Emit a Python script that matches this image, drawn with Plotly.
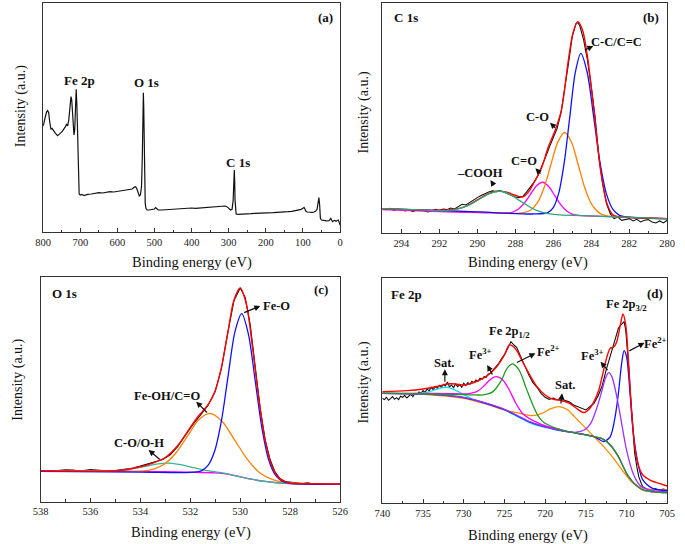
import plotly.graph_objects as go

W, H = 685, 544
FONT = "Liberation Serif"

# ---------------- (a) survey spectrum ----------------
a_be = [800, 797, 794, 791, 788, 785, 783, 781, 779, 776,
        773, 770, 767, 764, 761, 758, 755, 752, 749, 746,
        743, 740, 737, 734, 731, 729, 727, 725, 723, 721,
        719, 717, 715, 713, 711, 709, 707, 705, 703, 700,
        695, 690, 685, 680, 670, 660, 650, 640, 630, 620,
        610, 600, 590, 580, 570, 565, 560, 555, 551, 548,
        545, 541, 538, 535, 533, 531, 530, 529, 527, 525,
        523, 520, 515, 510, 505, 500, 497, 494, 490, 480,
        470, 460, 450, 440, 430, 420, 410, 400, 390, 380,
        370, 360, 350, 340, 330, 320, 310, 305, 300, 295,
        291, 288, 286, 285, 284, 283, 282, 280, 275, 270,
        260, 250, 240, 230, 220, 210, 200, 190, 180, 170,
        160, 150, 140, 130, 120, 110, 105, 100, 97, 95,
        92, 88, 84, 80, 75, 70, 66, 62, 59, 57,
        55, 53, 50, 45, 40, 35, 30, 27, 25, 23,
        20, 17, 14, 11, 8, 5, 3, 1, 0]
a_int = [318, 331, 348, 360, 364, 358, 336, 316, 308, 311,
         304, 301, 296, 291, 289, 292, 294, 298, 301, 306,
         309, 316, 324, 318, 336, 356, 386, 406, 396, 356,
         311, 291, 306, 376, 428, 376, 246, 126, 114, 111,
         113, 109, 111, 113, 114, 116, 118, 117, 119, 121,
         120, 122, 123, 126, 126, 128, 129, 134, 136, 131,
         119, 108, 111, 136, 216, 396, 418, 376, 196, 86,
         71, 66, 66, 67, 68, 69, 73, 69, 66, 66,
         67, 68, 69, 69, 70, 70, 71, 72, 71, 72,
         73, 73, 74, 74, 75, 76, 78, 76, 71, 66,
         68, 96, 156, 186, 156, 96, 58, 54, 53, 53,
         54, 55, 55, 56, 56, 56, 57, 58, 58, 59,
         59, 60, 61, 62, 64, 66, 68, 71, 74, 70,
         62, 60, 59, 60, 59, 60, 62, 68, 91, 103,
         81, 41, 36, 34, 34, 33, 34, 38, 41, 36,
         31, 34, 35, 32, 34, 36, 31, 24, 21]

# ---------------- (b) C 1s ----------------
b_raw_be = [295, 294.8, 294.6, 294.4, 294.2, 294, 293.8, 293.6, 293.4, 293.2, 293,
            292.8, 292.6, 292.4, 292.2, 292, 291.8, 291.6, 291.4, 291.2, 291,
            290.8, 290.6, 290.4, 290.2, 290, 289.8, 289.6, 289.4, 289.2, 289,
            288.8, 288.6, 288.4, 288.2, 288, 287.8, 287.6, 287.4, 287.2, 287,
            286.8, 286.6, 286.4, 286.2, 286, 285.8, 285.6, 285.4, 285.2, 285,
            284.8, 284.7, 284.6, 284.4, 284.2, 284, 283.8, 283.6, 283.4, 283.2, 283,
            282.8, 282.6, 282.4, 282.2, 282, 281.8, 281.6, 281.4, 281.2, 281,
            280.8, 280.6, 280.4, 280.2, 280]
b_raw_int = [73, 70, 74, 68, 71, 70, 66, 70, 64, 69, 70,
             66, 63, 67, 71, 68, 72, 70, 75, 72, 78,
             86, 84, 92, 98, 106, 112, 118, 123, 126, 124,
             127, 122, 118, 113, 108, 106, 110, 123, 138, 153,
             173, 198, 228, 258, 288, 313, 358, 428, 508, 588,
             628, 630, 620, 578, 518, 438, 348, 228, 148, 88, 58,
             43, 48, 38, 40, 43, 36, 41, 33, 38, 40,
             33, 30, 36, 30, 38]
b_fit_be = [295, 292, 291, 290.5, 290, 289.5, 289, 288.5, 288, 287.6,
            287.3, 286.95, 286.6, 286.26, 285.9, 285.57, 285.23, 284.97, 284.71, 284.46,
            284.2, 283.86, 283.51, 283.17, 282.83, 282, 280]
b_fit_int = [73, 68, 73, 83, 99, 116, 125, 123, 113, 108,
             123, 158, 198, 258, 308, 368, 508, 598, 633, 608,
             528, 368, 188, 88, 53, 47, 43]
b_cc_be = [295, 290, 287, 286.29, 286.0, 285.71, 285.42, 285.13, 284.84, 284.55,
           284.21, 283.87, 283.53, 283.19, 282.85, 282.51, 282, 280]
b_cc_int = [73, 63, 57, 61, 76, 120, 212, 348, 481, 538,
            480, 346, 208, 115, 70, 53, 47, 43]
b_co_be = [295, 290, 288, 287.56, 287.2, 286.84, 286.48, 286.12, 285.76, 285.4,
           285.04, 284.68, 284.32, 283.96, 283.6, 283.24, 282, 280]
b_co_int = [73, 63, 59, 61, 68, 90, 136, 206, 273, 301,
            272, 203, 132, 84, 61, 52, 47, 43]
b_cdo_be = [295, 292, 290, 289, 288.49, 288.17, 287.85, 287.53, 287.21, 286.89,
            286.57, 286.25, 285.93, 285.61, 285.29, 284.97, 284.65, 283, 280]
b_cdo_int = [70, 64, 61, 60, 60, 62, 71, 89, 115, 141,
             152, 140, 113, 85, 66, 56, 53, 49, 43]
b_cooh_be = [295, 293, 292.01, 291.48, 290.95, 290.42, 289.89, 289.36, 288.83, 288.3,
             287.77, 287.24, 286.71, 286.18, 285.65, 284, 282, 280]
b_cooh_int = [73, 69, 67, 68, 73, 84, 101, 118, 125, 116,
              97, 78, 64, 57, 54, 51, 47, 43]

# ---------------- (c) O 1s ----------------
c_raw_be = [538, 537.6, 537.3, 537, 536.7, 536.4, 536, 535.7, 535.4, 535,
            534.6, 534.3, 534, 533.7, 533.4, 533.1, 532.8, 532.5, 532.2, 531.9,
            531.6, 531.3, 531, 530.75, 530.5, 530.25, 530, 529.8, 529.6, 529.4,
            529.2, 529, 528.8, 528.6, 528.4, 528.2, 528, 527.8, 527.5, 527.3,
            527.1, 526.8, 526.5, 526]
c_raw_int = [92, 91, 93, 95, 94, 91, 96, 93, 92, 93,
             96, 100, 106, 112, 118, 126, 140, 165, 198, 230,
             258, 287, 330, 400, 505, 602, 640, 612, 530, 410,
             280, 185, 125, 88, 68, 60, 58, 55, 54, 56,
             53, 52, 53, 51]
c_fit_be = [538, 536, 535, 534.5, 534, 533.5, 533, 532.5, 532, 531.75,
            531.5, 531.25, 531, 530.75, 530.5, 530.25, 530, 529.75, 529.5, 529.25,
            529, 528.75, 528.5, 528.25, 528, 527, 526]
c_fit_int = [92, 91, 92, 96, 104, 115, 132, 168, 222, 249,
             271, 294, 333, 403, 505, 604, 640, 590, 458, 305,
             183, 110, 74, 61, 55, 53, 52]
c_feo_be = [538, 534, 532, 531.56, 531.29, 531.02, 530.75, 530.48, 530.21, 529.94,
            529.67, 529.4, 529.13, 528.86, 528.59, 528.32, 528, 526]
c_feo_int = [90, 88, 87, 92, 108, 152, 243, 379, 509, 563,
             501, 362, 220, 125, 79, 61, 54, 52]
c_feoh_be = [538, 535, 533.92, 533.47, 533.02, 532.57, 532.12, 531.67, 531.22, 530.72,
             530.22, 529.72, 529.22, 528.72, 528.22, 527, 526]
c_feoh_int = [92, 91, 91, 97, 113, 146, 195, 244, 264, 240,
              184, 127, 86, 66, 57, 53, 52]
c_coh_be = [538, 536, 535.16, 534.71, 534.26, 533.81, 533.36, 532.91, 532.46, 532.01,
            531.56, 531.11, 530.66, 530, 529.5, 529, 528, 526]
c_coh_int = [92, 91, 91, 94, 99, 105, 112, 115, 111, 104,
             96, 90, 85, 74, 66, 60, 54, 52]
c_bg_be = [538, 536, 534, 532, 531, 530.5, 530, 529.5, 529, 528.5, 528, 527, 526]
c_bg_int = [92, 91, 90, 88, 86, 82, 74, 66, 60, 56, 54, 53, 52]

# ---------------- (d) Fe 2p ----------------
d_raw_be = [740, 739.75, 739.5, 739.25, 739, 738.75, 738.5, 738.25, 738, 737.75,
            737.5, 737.25, 737, 736.75, 736.5, 736.25, 736, 735.75, 735.5, 735.25,
            735, 734.75, 734.5, 734.25, 734, 733.75, 733.5, 733.25, 733, 732.75,
            732.5, 732.25, 732, 731.75, 731.5, 731.25, 731, 730.75, 730.5, 730.25,
            730, 729.75, 729.5, 729.25, 729, 728.75, 728.5, 728.25, 728, 727.75,
            727.5, 727.25, 727, 726.75, 726.5, 726.25, 726, 725.75, 725.5, 725.25,
            725, 724.5, 724.2, 723.8, 723.5, 723,
            722.5, 722, 721.5, 721, 720.5, 720,
            719.5, 719, 718.5, 718, 717.5, 717, 716.5, 716, 715.5, 715,
            714.5, 714, 713.5, 713, 712.5, 712,
            711.8, 711.5, 711.2, 711, 710.8, 710.5, 710.3, 710.1,
            709.9, 709.7, 709.5, 709.2, 709, 708.7, 708.5, 708.2, 708,
            707.5, 707, 706.5, 706, 705.5, 705]
d_raw_int = [315, 311, 318, 309, 314, 320, 312, 317, 311, 321,
             318, 324, 316, 323, 327, 320, 329, 326, 334, 330,
             338, 333, 343, 337, 348, 341, 350, 345, 354, 348,
             357, 352, 364, 349, 355, 347, 358, 350, 356, 348,
             360, 353, 362, 357, 366, 362, 370, 366, 375, 372,
             380, 378, 387, 390, 397, 402, 410, 418, 428, 436,
             446, 470, 485, 474, 468, 440,
             410, 385, 362, 348, 330, 318,
             312, 316, 310, 314, 308, 304, 295, 290, 283, 280,
             290, 300, 322, 352, 400, 440,
             462, 480, 510, 525, 532, 540, 545, 520,
             470, 400, 320, 210, 150, 105, 80, 60, 50,
             42, 40, 44, 40, 43, 40]
d_fit_be = [740, 737, 735, 733, 732, 731, 730, 729, 728, 727,
            726, 725, 724.4, 724, 723.4, 723, 722, 721, 720, 719,
            718.3, 717, 716, 715.2, 714.5, 714, 713.4, 713, 712.4, 712,
            711.6, 711.2, 710.8, 710.44, 710.1, 709.8, 709.5, 709.2, 709, 708.5,
            708, 707, 706, 705]
d_fit_int = [335, 338, 343, 352, 358, 358, 355, 360, 370, 385,
             408, 445, 475, 472, 455, 435, 390, 350, 325, 312,
             310, 300, 282, 272, 285, 305, 340, 380, 440, 465,
             468, 485, 530, 568, 535, 440, 320, 220, 170, 110,
             85, 68, 60, 52]
d_sat1_be = [740, 737.5, 736.5, 735.75, 735, 734.25, 733.5, 732.75, 732, 731.25,
             730.5, 729.75, 729, 728.25, 727.5, 726, 725, 724, 723, 722,
             721, 720, 719, 718, 717, 716, 715, 714, 713, 712,
             711, 710.5, 710, 709.5, 709, 708.5, 708, 707, 706, 705]
d_sat1_int = [330, 329.5, 329.3, 329.6, 331.5, 334.5, 340.8, 346.4, 348, 341.9,
              332.8, 322.5, 312.5, 305.6, 300.3, 289, 280, 268, 255, 243,
              234, 228, 222, 217, 214, 210, 205, 200, 194, 175,
              140, 115, 90, 72, 58, 48, 40, 35, 33, 32]
d_fe3a_be = [740, 735, 731, 730, 729.2, 728.4, 727.6, 727.2, 726.8, 726.4,
             726, 725.6, 725.2, 724.8, 724.4, 724, 723.6, 723.2, 722.8, 722,
             721.2, 720.4, 719.6, 718, 717, 716, 715, 714, 713, 712,
             711, 710.5, 710, 709.5, 709, 708.5, 708, 707, 706, 705]
d_fe3a_int = [330, 330, 329, 328, 330, 335, 350, 360, 370, 377,
              380, 377, 370, 357, 340, 320, 300, 284, 270, 255,
              245, 236, 230, 220, 214, 210, 205, 200, 194, 175,
              140, 115, 90, 72, 58, 48, 40, 35, 33, 32]
d_fe2a_be = [740, 735, 730, 728.5, 727.6, 727, 726.4, 725.6, 725.2, 724.8,
             724.4, 724, 723.6, 723.2, 722.8, 722.4, 722, 721.6, 721.2, 720.8,
             720.2, 719.6, 718.8, 718, 717, 716, 715, 714, 713, 712,
             711, 710.5, 710, 709.5, 709, 708.5, 708, 707, 706, 705]
d_fe2a_int = [330, 328, 326, 325, 325, 328, 335, 360, 378, 400,
              413, 418, 412, 400, 378, 350, 325, 300, 278, 260,
              243, 235, 226, 220, 214, 210, 205, 200, 194, 175,
              140, 115, 90, 72, 58, 48, 40, 35, 33, 32]
d_sat2_be = [740, 735, 730, 727, 725, 723.5, 722.8, 721.6, 720.4, 719.2,
             718.3, 717.2, 716.4, 715.2, 714, 712.8, 711.6, 710.4, 709.2, 708,
             707, 706, 705]
d_sat2_int = [330, 327, 315, 296, 280, 272, 268, 263, 270, 285,
              290, 280, 260, 230, 200, 170, 135, 95, 60, 45,
              42, 41, 40]
d_fe3b_be = [740, 735, 730, 725, 722, 720, 718, 716.4, 715.2, 714.4,
             713.6, 713, 712.6, 712.2, 711.8, 711.2, 710.6, 710, 709.2, 708.4,
             707.2, 706, 705]
d_fe3b_int = [330, 328, 318, 282, 246, 230, 218, 213, 220, 240,
              290, 340, 375, 392, 380, 320, 240, 160, 90, 55,
              40, 36, 35]
d_fe2b_be = [740, 735, 730, 725, 722, 720, 718, 716, 714, 713.6,
             712.8, 712, 711.4, 711, 710.6, 710.3, 710, 709.6, 709.2, 708.6,
             708, 706.8, 705]
d_fe2b_int = [330, 328, 317, 281, 245, 229, 218, 210, 200, 195,
              185, 200, 260, 330, 420, 458, 440, 340, 220, 120,
              70, 45, 38]

# ---------------- figure ----------------
fig = go.Figure()


def add(x, y, color, ax, width=1.3, shape="spline"):
    fig.add_trace(go.Scatter(x=x, y=y, mode="lines", xaxis="x" + ax, yaxis="y" + ax,
                             line=dict(color=color, width=width, shape=shape,
                                       smoothing=0.8 if shape == "spline" else None),
                             showlegend=False, hoverinfo="skip"))


# (a)
add(a_be, a_int, "#111111", "", width=1.2, shape="linear")
# (b)
add(b_raw_be, b_raw_int, "#111111", "2", width=1.1, shape="linear")
add(b_cdo_be, b_cdo_int, "#ff00ff", "2")
add(b_co_be, b_co_int, "#ff8000", "2")
add(b_cc_be, b_cc_int, "#1010ff", "2")
add(b_fit_be, b_fit_int, "#ff0000", "2", width=1.4)
add(b_cooh_be, b_cooh_int, "#2aa876", "2")
# (c)
add(c_raw_be, c_raw_int, "#111111", "3", width=1.1, shape="linear")
add(c_bg_be, c_bg_int, "#ff00ff", "3")
add(c_coh_be, c_coh_int, "#3cb494", "3")
add(c_feoh_be, c_feoh_int, "#ff8000", "3")
add(c_feo_be, c_feo_int, "#1010ff", "3")
add(c_fit_be, c_fit_int, "#ff0000", "3", width=1.4)
# (d)
add(d_raw_be, d_raw_int, "#111111", "4", width=1.1, shape="linear")
add(d_sat1_be, d_sat1_int, "#00e0f0", "4")
add(d_sat2_be, d_sat2_int, "#ff8c00", "4")
add(d_fe2b_be, d_fe2b_int, "#1010ff", "4")
add(d_fe3b_be, d_fe3b_int, "#9b30ff", "4")
add(d_fe3a_be, d_fe3a_int, "#ff00ff", "4")
add(d_fe2a_be, d_fe2a_int, "#1f9a1f", "4")
add(d_fit_be, d_fit_int, "#ff0000", "4", width=1.4)

# panel boxes in pixels: (left, right, top, bottom)
boxes = {"": (36, 340, 3, 232), "2": (383.3, 675, 3.3, 233),
         "3": (33.3, 340, 277.3, 501.5), "4": (383.3, 675, 278.3, 503.3)}
xranges = {"": [800, 0], "2": [295, 280], "3": [538, 526], "4": [740, 705]}
yranges = {"": [0, 687], "2": [0, 688], "3": [0, 672], "4": [0, 675]}
dticks = {"": (100, 0), "2": (2, 280), "3": (2, 526), "4": (5, 705)}

lay = {}
for k, (l, r, t, b) in boxes.items():
    dt, t0 = dticks[k]
    lay["xaxis" + k] = dict(
        domain=[l / W, r / W], range=xranges[k], anchor="y" + k,
        showline=True, mirror=True, linecolor="#333", linewidth=1,
        ticks="inside", ticklen=4, tickwidth=1, tickcolor="#333",
        tick0=t0, dtick=dt,
        minor=dict(ticks="inside", ticklen=2.5, tick0=t0, dtick=dt / 2, tickcolor="#333"),
        showgrid=False, zeroline=False,
        tickfont=dict(family=FONT, size=10.5, color="#222"))
    lay["yaxis" + k] = dict(
        domain=[1 - b / H, 1 - t / H], range=yranges[k], anchor="x" + k,
        showline=True, mirror=True, linecolor="#333", linewidth=1,
        ticks="", showticklabels=False, showgrid=False, zeroline=False)

anns = []


def txt(s, px, py, size=12.5, bold=True, angle=0):
    anns.append(dict(text="<b>%s</b>" % s if bold else s, x=px / W, y=1 - py / H,
                     xref="paper", yref="paper", showarrow=False, xanchor="center",
                     yanchor="middle", textangle=angle,
                     font=dict(family=FONT, size=size, color="#111")))


def arrow(head, tail):
    anns.append(dict(text="", x=head[0] / W, y=1 - head[1] / H, xref="paper", yref="paper",
                     ax=tail[0] - head[0], ay=tail[1] - head[1], showarrow=True,
                     arrowhead=2, arrowsize=1, arrowwidth=1.2, arrowcolor="#111", standoff=0))


for px, py in [(13.5, 106), (365, 112), (10, 380), (365, 382)]:
    txt("Intensity (a.u.)", px, py, size=14, bold=False, angle=-90)
for px, py in [(188, 262), (532, 262), (187, 532), (532, 535)]:
    txt("Binding energy (eV)", px, py, size=14.5, bold=False)

txt("Fe 2p", 73, 80, 13); txt("O 1s", 142, 82, 13); txt("C 1s", 235, 162, 13); txt("(a)", 325, 17, 13)
txt("C 1s", 408, 18, 13); txt("(b)", 658, 17, 13)
txt("C-C/C=C", 623, 42); txt("C-O", 542, 117); txt("C=O", 528, 161); txt("–COOH", 483, 173)
txt("O 1s", 58, 293, 13); txt("(c)", 320, 289, 13)
txt("Fe-O", 275, 306); txt("Fe-OH/C=O", 163, 396); txt("C-O/O-H", 134, 443)
txt("Fe 2p", 408, 294, 13); txt("(d)", 662, 293, 13)
txt("Fe 2p<sub>3/2</sub>", 633, 305); txt("Fe<sup>2+</sup>", 663, 343); txt("Fe<sup>3+</sup>", 598, 355)
txt("Sat.", 571, 385); txt("Fe 2p<sub>1/2</sub>", 513, 332); txt("Fe<sup>2+</sup>", 553, 351)
txt("Fe<sup>3+</sup>", 484, 354); txt("Sat.", 447, 363)

for h, t in [((599.3, 46), (589.3, 50.7)), ((555, 122.7), (561.7, 129.3)),
             ((540, 168.3), (546.7, 175)), ((494, 180), (498.3, 186.7)),
             ((258.3, 306), (240.7, 313.3)), ((192.7, 401.7), (205, 414)),
             ((144, 450), (156.7, 460.7)),
             ((651.7, 342.7), (635, 351.7)), ((606.7, 361.7), (615, 371.7)),
             ((567.3, 393.3), (566, 405)), ((540, 353.3), (520, 363.3)),
             ((490.7, 365), (496.7, 376)), ((447.3, 369.3), (447.3, 383.3))]:
    arrow(h, t)

fig.update_layout(width=W, height=H, autosize=False, margin=dict(l=0, r=0, t=0, b=0),
                  paper_bgcolor="white", plot_bgcolor="white", annotations=anns,
                  font=dict(family=FONT), **lay)
fig.write_html("out.html", config={"displayModeBar": False},
               post_script="document.body.style.margin='0';document.body.style.padding='0';")
